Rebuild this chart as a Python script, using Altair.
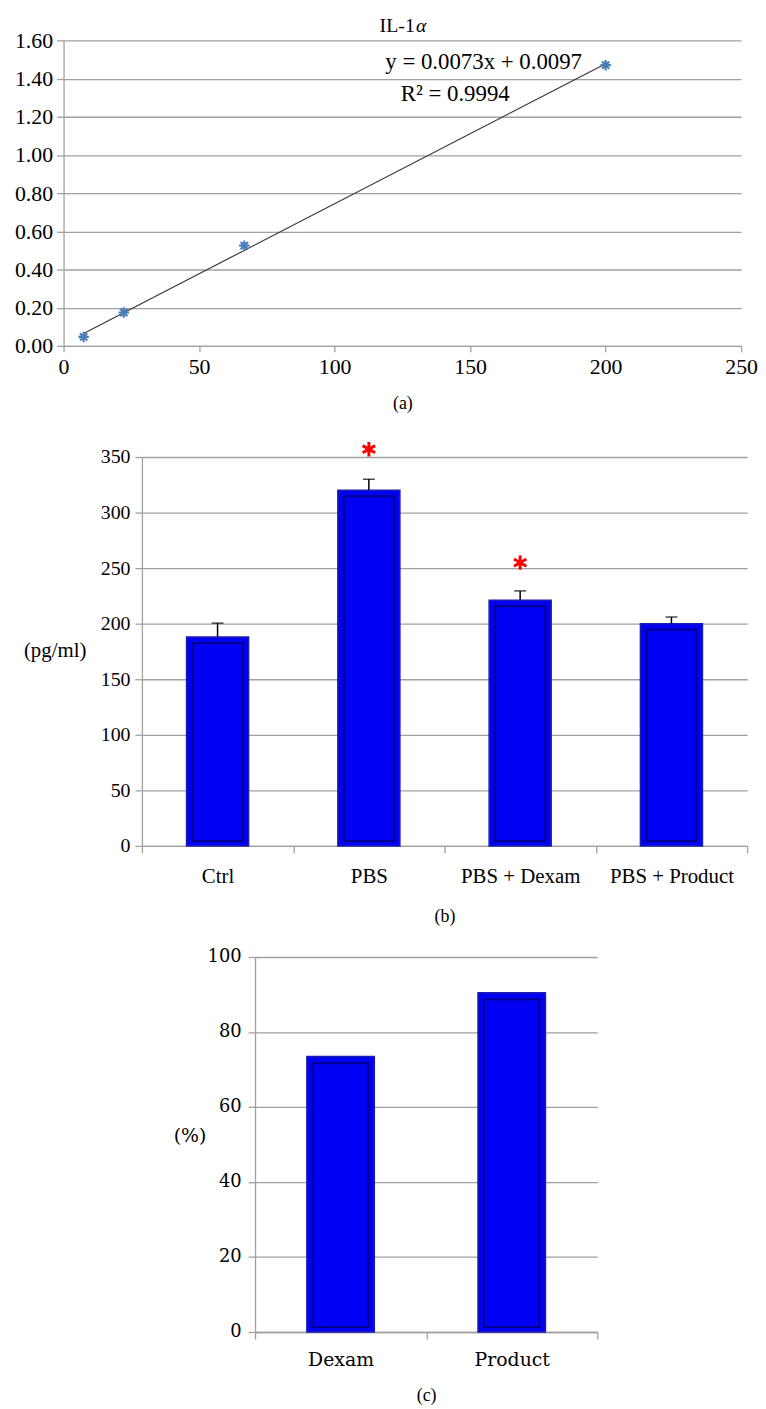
import altair as alt
import pandas as pd

# ---------------- data ----------------
# (a) IL-1alpha standard curve
std_conc = [7.4, 22.2, 66.7, 200]
std_od = [0.047, 0.175, 0.525, 1.47]
a_yticks = [0, 0.2, 0.4, 0.6, 0.8, 1.0, 1.2, 1.4, 1.6]
a_xticks = [0, 50, 100, 150, 200, 250]
eq_text = ["y = 0.0073x + 0.0097", "R\u00b2 = 0.9994"]
eq_x = [155.0, 144.5]
eq_y = [1.486, 1.32]
title_parts = ["IL-1", "\u03b1"]
title_x = [129.6, 130.0]
title_y = [1.675, 1.675]

# (b) IL-1alpha concentration
groups = ["Ctrl", "PBS", "PBS + Dexam", "PBS + Product"]
il1_mean = [188, 320, 221, 200]
il1_err = [200.5, 330, 229.5, 206]
sig_groups = ["PBS", "PBS + Dexam"]
sig_pos = [357, 255]
b_yticks = [0, 50, 100, 150, 200, 250, 300, 350]

# (c) inhibition percentage
inhib_groups = ["Dexam", "Product"]
inhib_pct = [73.5, 90.5]
c_yticks = [0, 20, 40, 60, 80, 100]

# ---------------- styles ----------------
SERIF = "Liberation Serif"
SERIF_C = "DejaVu Serif"
GRID = "#a0a0a0"
BAR_FILL = "#0000f2"
BAR_EDGE = "#00008c"
STAR = "M0,-1L0,1M-1,0L1,0M-0.7,-0.7L0.7,0.7M-0.7,0.7L0.7,-0.7"
ASTER = "M0,-1L0,1M-0.87,-0.5L0.87,0.5M-0.87,0.5L0.87,-0.5"

# ---------------- panel (a) ----------------
df_a = pd.DataFrame({"conc": std_conc, "od": std_od})
df_eq = pd.DataFrame({"x": eq_x, "y": eq_y, "t": eq_text})

xa_scale = alt.Scale(domain=[0, 250], nice=False, zero=True)
ya_scale = alt.Scale(domain=[0, 1.6], nice=False)

AX_AX = alt.Axis(values=a_xticks, grid=False, title="(a)",
                 labelFont=SERIF, labelFontSize=22, labelColor="black",
                 tickSize=6, tickColor=GRID, domainColor=GRID,
                 domainWidth=1.3, tickWidth=1.3, labelPadding=5,
                 labelOverlap=False, labelFlush=False,
                 titleFont=SERIF, titleFontSize=18, titleFontWeight="normal",
                 titleColor="black", titlePadding=17)
AX_AY = alt.Axis(values=a_yticks, format=".2f", grid=True, gridColor=GRID,
                 gridWidth=1.3, title=None, labelFont=SERIF, labelFontSize=22,
                 labelColor="black", tickSize=7, tickColor=GRID, tickWidth=1.3,
                 domainColor=GRID, domainWidth=1.3, labelPadding=4,
                 labelOverlap=False, labelFlush=False)


def xa(field):
    return alt.X(field, scale=xa_scale, axis=AX_AX)


def ya(field):
    return alt.Y(field, scale=ya_scale, axis=AX_AY)


line_a = alt.Chart(df_a).transform_regression("conc", "od").mark_line(
    color="#3a3a3a", strokeWidth=1.2).encode(x=xa("conc:Q"), y=ya("od:Q"))
pts_a = alt.Chart(df_a).mark_point(shape=STAR, filled=False, color="#4a7ebb",
                                   strokeWidth=2.2, size=110, opacity=1).encode(
    x=xa("conc:Q"), y=ya("od:Q"))
eq_a = alt.Chart(df_eq).mark_text(font=SERIF, fontSize=23, color="black",
                                  align="center", baseline="middle").encode(
    x=xa("x:Q"), y=ya("y:Q"), text="t:N")
df_t1 = pd.DataFrame({"x": [title_x[0]], "y": [title_y[0]], "t": [title_parts[0]]})
df_t2 = pd.DataFrame({"x": [title_x[1]], "y": [title_y[1]], "t": [title_parts[1]]})
t1 = alt.Chart(df_t1).mark_text(font=SERIF, fontSize=20, color="black", align="right",
                                baseline="middle").encode(
    x=xa("x:Q"), y=ya("y:Q"), text="t:N")
t2 = alt.Chart(df_t2).mark_text(font=SERIF, fontSize=20, fontStyle="italic", color="black",
                                align="left", baseline="middle").encode(
    x=xa("x:Q"), y=ya("y:Q"), text="t:N")

panel_a = alt.layer(line_a, pts_a, eq_a, t1, t2).properties(width=683, height=308)

# ---------------- panel (b) ----------------
df_b = pd.DataFrame({"g": groups, "m": il1_mean, "e": il1_err})
df_sig = pd.DataFrame({"g": sig_groups, "s": sig_pos})

xb = alt.X("g:N", sort=groups, scale=alt.Scale(paddingInner=0, paddingOuter=0),
           axis=alt.Axis(labelAngle=0, tickBand="extent", title="(b)", labelFont=SERIF,
                         labelFontSize=21, labelColor="black", tickSize=7, tickColor=GRID,
                         tickWidth=1.3, domainColor=GRID, domainWidth=1.3, labelPadding=13,
                         labelOverlap=False,
                         titleFont=SERIF, titleFontSize=18, titleFontWeight="normal",
                         titleColor="black", titlePadding=21))
yb_scale = alt.Scale(domain=[0, 350], nice=False)
yb = alt.Y("m:Q", scale=yb_scale,
           axis=alt.Axis(values=b_yticks, grid=True, gridColor=GRID, gridWidth=1.3,
                         title="(pg/ml)", titleAngle=0, titleX=-88, titleY=195,
                         titleAlign="center", titleBaseline="middle", titleFont=SERIF,
                         titleFontSize=21, titleFontWeight="normal", titleColor="black",
                         labelFont=SERIF, labelFontSize=20, labelColor="black",
                         tickSize=7, tickColor=GRID, tickWidth=1.3, domainColor=GRID,
                         domainWidth=1.3, labelPadding=5, labelOverlap=False))

bars_b = alt.Chart(df_b).mark_bar(width=alt.RelativeBandSize(0.41), color=BAR_FILL,
                                  stroke="#1c1cb0", strokeWidth=1.5).encode(x=xb, y=yb)
inner_b = alt.Chart(df_b).mark_bar(width=alt.RelativeBandSize(0.33), fillOpacity=0,
                                   stroke=BAR_EDGE, strokeWidth=2, yOffset=6,
                                   y2Offset=-5).encode(
    x=alt.X("g:N", sort=groups), y=alt.Y("m:Q", scale=yb_scale), y2=alt.datum(0))
err_b = alt.Chart(df_b).mark_rule(color="black", strokeWidth=1.5).encode(
    x=alt.X("g:N", sort=groups), y=alt.Y("m:Q", scale=yb_scale), y2="e:Q")
cap_b = alt.Chart(df_b).mark_tick(color="black", thickness=1.5, size=12).encode(
    x=alt.X("g:N", sort=groups), y=alt.Y("e:Q", scale=yb_scale))
sig_b = alt.Chart(df_sig).mark_point(shape=ASTER, filled=False, color="#ff0000",
                                     strokeWidth=3, size=210, opacity=1).encode(
    x=alt.X("g:N", sort=groups), y=alt.Y("s:Q", scale=yb_scale))

panel_b = alt.layer(bars_b, inner_b, err_b, cap_b, sig_b).properties(width=610, height=392)

# ---------------- panel (c) ----------------
df_c = pd.DataFrame({"g": inhib_groups, "p": inhib_pct})
xc = alt.X("g:N", sort=inhib_groups, scale=alt.Scale(paddingInner=0, paddingOuter=0),
           axis=alt.Axis(labelAngle=0, tickBand="extent", title="(c)", labelFont=SERIF_C,
                         labelFontSize=19, labelColor="black", tickSize=7, tickColor=GRID,
                         tickWidth=1.3, domainColor=GRID, domainWidth=1.3, labelPadding=12,
                         labelOverlap=False,
                         titleFont=SERIF, titleFontSize=18, titleFontWeight="normal",
                         titleColor="black", titlePadding=17))
yc_scale = alt.Scale(domain=[0, 100], nice=False)
yc = alt.Y("p:Q", scale=yc_scale,
           axis=alt.Axis(values=c_yticks, grid=True, gridColor=GRID, gridWidth=1.3,
                         title="(%)", titleAngle=0, titleX=-66, titleY=180,
                         titleAlign="center", titleBaseline="middle", titleFont=SERIF_C,
                         titleFontSize=19, titleFontWeight="normal", titleColor="black",
                         labelFont=SERIF_C, labelFontSize=18, labelColor="black",
                         tickSize=7, tickColor=GRID, tickWidth=1.3, domainColor=GRID,
                         domainWidth=1.3, labelPadding=7, labelOverlap=False))
bars_c = alt.Chart(df_c).mark_bar(width=alt.RelativeBandSize(0.394), color=BAR_FILL,
                                  stroke="#1c1cb0", strokeWidth=1.5).encode(x=xc, y=yc)
inner_c = alt.Chart(df_c).mark_bar(width=alt.RelativeBandSize(0.325), fillOpacity=0,
                                   stroke=BAR_EDGE, strokeWidth=2, yOffset=7,
                                   y2Offset=-5).encode(
    x=alt.X("g:N", sort=inhib_groups), y=alt.Y("p:Q", scale=yc_scale), y2=alt.datum(0))
panel_c = alt.layer(bars_c, inner_c).properties(width=345, height=378)


def spacer(w, h):
    # invisible spacer that only reserves horizontal room
    return alt.Chart(pd.DataFrame({"v": [0, 1]})).mark_point(opacity=0, size=1).encode(
        x=alt.X("v:Q", axis=None, scale=alt.Scale(domain=[0, 1], nice=False)),
        y=alt.Y("v:Q", axis=None, scale=alt.Scale(domain=[0, 1], nice=False))
    ).properties(width=w, height=h)


row_a = alt.hconcat(spacer(55, 308), panel_a, spacing=0, bounds="flush")
row_b = alt.hconcat(spacer(134, 392), panel_b, spacing=0, bounds="flush")
row_c = alt.hconcat(spacer(248, 378), panel_c, spacing=0, bounds="flush")

chart = alt.vconcat(row_a, row_b, row_c, spacing=23).properties(
    padding={"left": 0, "top": 2, "right": 0, "bottom": 0}, background="white"
).configure_view(stroke="transparent", strokeWidth=0)

chart.save("out.html", embed_options={"renderer": "svg", "actions": False})
